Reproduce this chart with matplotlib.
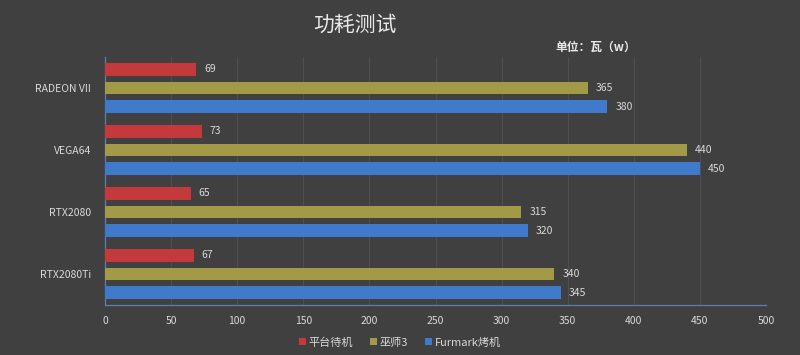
import matplotlib
matplotlib.use("Agg")
import matplotlib.pyplot as plt
import numpy as np

plt.rcParams['font.family'] = ['Noto Sans CJK SC', 'DejaVu Sans']

categories = ["RADEON VII", "VEGA64", "RTX2080", "RTX2080Ti"]
series_names = ["平台待机", "巫师3", "Furmark烤机"]
idle = [69, 73, 65, 67]
witcher = [365, 440, 315, 340]
furmark = [380, 450, 320, 345]
xticks = [0, 50, 100, 150, 200, 250, 300, 350, 400, 450, 500]

bg = "#404040"
colors = ["#c4393b", "#a39a48", "#3f7acb"]
text_c = "#d9d9d9"

fig = plt.figure(figsize=(8, 3.55), dpi=100, facecolor=bg)
ax = fig.add_axes([0.13125, 0.1408, 0.82625, 0.6986], facecolor=bg)

y = np.arange(len(categories))
offsets = [-0.3, 0.0, 0.3]
h = 0.2
for vals, off, c, name in zip([idle, witcher, furmark], offsets, colors, series_names):
    bars = ax.barh(y + off, vals, height=h, color=c, label=name, zorder=3)
    for b, v in zip(bars, vals):
        ax.text(b.get_width() + 6, b.get_y() + b.get_height() / 2, str(v),
                va="center", ha="left", color=text_c, fontsize=7.5, zorder=4)

ax.set_xlim(0, 500)
ax.set_ylim(len(categories) - 0.5, -0.5)
ax.set_yticks(y)
ax.set_yticklabels(categories, color=text_c, fontsize=7.5)
ax.set_xticks(xticks)
ax.set_xticklabels([str(t) for t in xticks], color=text_c, fontsize=7.5)
ax.tick_params(axis="both", length=0, pad=8)
ax.tick_params(axis="y", pad=10)
ax.grid(axis="x", color="#4f4f4f", linewidth=0.8, zorder=0)
for s in ["top", "right"]:
    ax.spines[s].set_visible(False)
ax.spines["left"].set_color("#5b7fb5")
ax.spines["bottom"].set_color("#5b7fb5")
ax.spines["left"].set_linewidth(0.9)
ax.spines["bottom"].set_linewidth(0.9)

fig.text(0.444, 0.93, "功耗测试", ha="center", va="center", color="#e8e8e8",
         fontsize=15)
fig.text(0.745, 0.868, "单位：瓦（w）", ha="center", va="center", color="#e8e8e8",
         fontsize=8.5, fontweight="bold")

leg = fig.legend(loc="center", bbox_to_anchor=(0.5, 0.035), ncol=3, frameon=False,
                 fontsize=8, handlelength=0.6, handleheight=0.6, handletextpad=0.3,
                 columnspacing=1.5, labelcolor=text_c)

fig.savefig("out.png", dpi=100, facecolor=bg)
